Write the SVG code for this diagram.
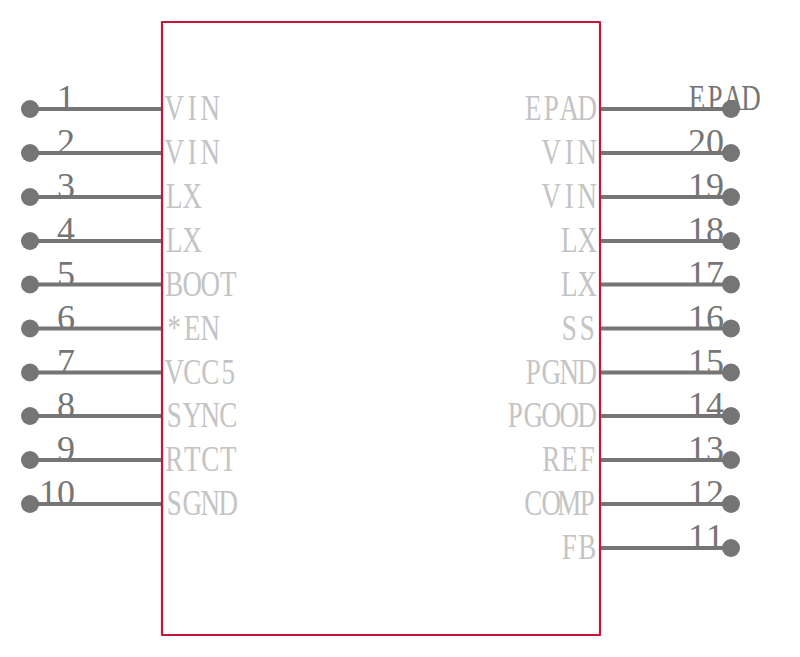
<svg xmlns="http://www.w3.org/2000/svg" width="800" height="657" viewBox="0 0 800 657">
<style>
text{font-family:"Liberation Serif","Noto Serif",serif;font-size:36px;text-anchor:middle;opacity:.999}
.n{fill:#757575;transform:scale(.75,1)}
.d{fill:#757575}
.l{fill:#c4c4c4;transform:translate(-.7px,-.5px) scale(.75,1)}
.p{fill:#757575}
.w{stroke:#757575;stroke-width:4;fill:none}
.b{fill:#fff;stroke:#c4153a;stroke-width:2.2;stroke-linejoin:round}
</style>
<rect width="800" height="657" fill="#fff"/>
<g id="body"><rect class="b" x="162" y="22" width="438" height="613"/></g>
<g id="connectors">
<path class="w" d="M30 109H161M30 153H161M30 197H161M30 241H161M30 284.500H161M30 328.500H161M30 372.500H161M30 416H161M30 460H161M30 504H161"/>
<path class="w" d="M601 109H731M601 153H731M601 197H731M601 241H731M601 284.500H731M601 328.500H731M601 372.500H731M601 416H731M601 460H731M601 504H731M601 548H731"/>
</g>
<g id="pin1"><circle class="p" cx="30" cy="109" r="9"/><text class="d" x="66" y="110">1</text><text class="l" x="233.300 257.300 281.300" y="121">VIN</text></g>
<g id="pin2"><circle class="p" cx="30" cy="153" r="9"/><text class="d" x="66" y="154">2</text><text class="l" x="233.300 257.300 281.300" y="165">VIN</text></g>
<g id="pin3"><circle class="p" cx="30" cy="197" r="9"/><text class="d" x="66" y="198">3</text><text class="l" x="233.300 257.300" y="209">LX</text></g>
<g id="pin4"><circle class="p" cx="30" cy="241" r="9"/><text class="d" x="66" y="242">4</text><text class="l" x="233.300 257.300" y="253">LX</text></g>
<g id="pin5"><circle class="p" cx="30" cy="284.500" r="9"/><text class="d" x="66" y="285.500">5</text><text class="l" x="233.300 257.300 281.300 305.300" y="296.500">BOOT</text></g>
<g id="pin6"><circle class="p" cx="30" cy="328.500" r="9"/><text class="d" x="66" y="329.500">6</text><text class="l" x="233.300 257.300 281.300" y="340.500">*EN</text></g>
<g id="pin7"><circle class="p" cx="30" cy="372.500" r="9"/><text class="d" x="66" y="373.500">7</text><text class="l" x="233.300 257.300 281.300 305.300" y="384.500">VCC5</text></g>
<g id="pin8"><circle class="p" cx="30" cy="416" r="9"/><text class="d" x="66" y="417">8</text><text class="l" x="233.300 257.300 281.300 305.300" y="428">SYNC</text></g>
<g id="pin9"><circle class="p" cx="30" cy="460" r="9"/><text class="d" x="66" y="461">9</text><text class="l" x="233.300 257.300 281.300 305.300" y="472">RTCT</text></g>
<g id="pin10"><circle class="p" cx="30" cy="504" r="9"/><text class="d" x="48 66" y="505">10</text><text class="l" x="233.300 257.300 281.300 305.300" y="516">SGND</text></g>
<g id="pinEPAD"><text class="n" x="929.300 953.300 977.300 1001.300" y="110">EPAD</text><circle class="p" cx="731" cy="109" r="9"/><text class="l" x="712 736 760 784" y="121">EPAD</text></g>
<g id="pin20"><text class="d" x="697 715" y="154">20</text><circle class="p" cx="731" cy="153" r="9"/><text class="l" x="736 760 784" y="165">VIN</text></g>
<g id="pin19"><text class="d" x="697 715" y="198">19</text><circle class="p" cx="731" cy="197" r="9"/><text class="l" x="736 760 784" y="209">VIN</text></g>
<g id="pin18"><text class="d" x="697 715" y="242">18</text><circle class="p" cx="731" cy="241" r="9"/><text class="l" x="760 784" y="253">LX</text></g>
<g id="pin17"><text class="d" x="697 715" y="285.500">17</text><circle class="p" cx="731" cy="284.500" r="9"/><text class="l" x="760 784" y="296.500">LX</text></g>
<g id="pin16"><text class="d" x="697 715" y="329.500">16</text><circle class="p" cx="731" cy="328.500" r="9"/><text class="l" x="760 784" y="340.500">SS</text></g>
<g id="pin15"><text class="d" x="697 715" y="373.500">15</text><circle class="p" cx="731" cy="372.500" r="9"/><text class="l" x="712 736 760 784" y="384.500">PGND</text></g>
<g id="pin14"><text class="d" x="697 715" y="417">14</text><circle class="p" cx="731" cy="416" r="9"/><text class="l" x="688 712 736 760 784" y="428">PGOOD</text></g>
<g id="pin13"><text class="d" x="697 715" y="461">13</text><circle class="p" cx="731" cy="460" r="9"/><text class="l" x="736 760 784" y="472">REF</text></g>
<g id="pin12"><text class="d" x="697 715" y="505">12</text><circle class="p" cx="731" cy="504" r="9"/><text class="l" x="712 736 760 784" y="516">COMP</text></g>
<g id="pin11"><text class="d" x="697 715" y="549">11</text><circle class="p" cx="731" cy="548" r="9"/><text class="l" x="760 784" y="560">FB</text></g>
</svg>
